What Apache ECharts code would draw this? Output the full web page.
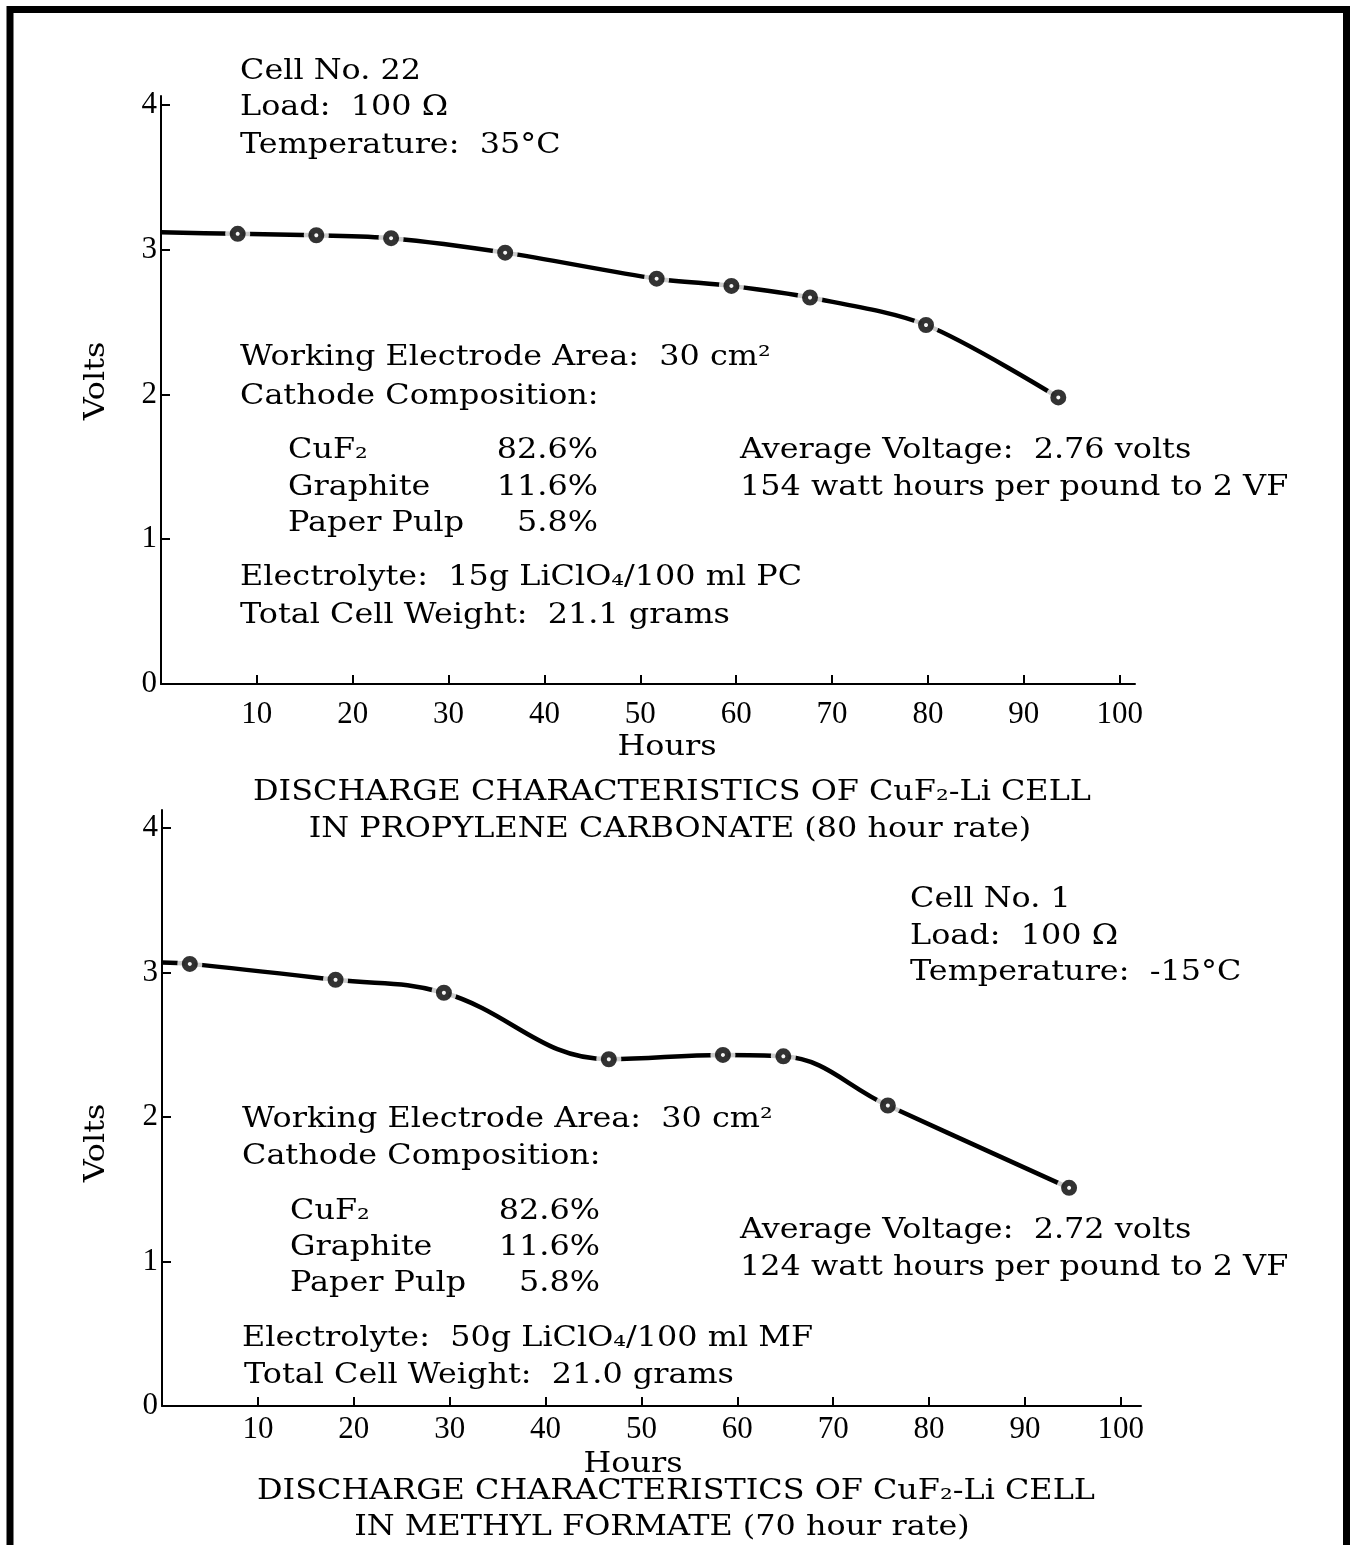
<!DOCTYPE html>
<html>
<head>
<meta charset="utf-8">
<title>Discharge characteristics of CuF2-Li cells</title>
<script src="https://cdn.jsdelivr.net/npm/echarts@6/dist/echarts.min.js"></script>
<style>
  html, body { margin: 0; padding: 0; background: #fff; }
  #chart { width: 1362px; height: 1545px; }
</style>
</head>
<body>
<div id="chart"></div>
<script>
// Cell No. 22 in propylene carbonate, 35 °C.
// The first pair is where the hand-drawn curve leaves the Volts axis; the rest are measured points.
const pcHours = [0, 8.0, 16.2, 24.0, 35.9, 51.7, 59.5, 67.7, 79.8, 93.6];
const pcVolts = [3.12, 3.11, 3.10, 3.08, 2.98, 2.80, 2.75, 2.67, 2.48, 1.98];

// Cell No. 1 in methyl formate, -15 °C (same layout: axis start, then measured points).
const mfHours = [0, 2.9, 18.1, 29.4, 46.6, 58.5, 64.8, 75.7, 94.6];
const mfVolts = [3.07, 3.06, 2.95, 2.86, 2.40, 2.43, 2.42, 2.08, 1.51];

const hourTicks = [10, 20, 30, 40, 50, 60, 70, 80, 90, 100];
const voltTicks = [0, 1, 2, 3, 4];

const INK = '#000';
const TEXT_FONT = 'DejaVu Serif';
const TICK_FONT = 'Liberation Serif';
const TICK_SIZE = 31;
const TEXT_SIZE = 27;
const TEXT_SX = 1.18;

function pairs(xs, ys) { return xs.map((x, i) => [x, ys[i]]); }

const chart = echarts.init(document.getElementById('chart'), null, { renderer: 'canvas' });

function xAxisFor(grid, max, margin) {
  return {
    type: 'value', gridIndex: grid, min: 0, max: max,
    axisLine: { show: true, onZero: false, lineStyle: { color: INK, width: 2 } },
    axisTick: { show: true, inside: true, length: 9, customValues: hourTicks, lineStyle: { color: INK, width: 2 } },
    axisLabel: { customValues: hourTicks, margin: margin, color: INK, fontFamily: TICK_FONT, fontSize: TICK_SIZE },
    splitLine: { show: false }
  };
}
function yAxisFor(grid, max) {
  return {
    type: 'value', gridIndex: grid, min: 0, max: max,
    axisLine: { show: true, onZero: false, lineStyle: { color: INK, width: 2 } },
    axisTick: { show: true, inside: true, length: 9, customValues: voltTicks, lineStyle: { color: INK, width: 2 } },
    axisLabel: { customValues: voltTicks, margin: 4, color: INK, fontFamily: TICK_FONT, fontSize: TICK_SIZE },
    splitLine: { show: false }
  };
}

function curveSeries(idx, hours, volts, smooth) {
  const all = pairs(hours, volts);
  const measured = all.slice(1);
  return [
    { type: 'line', xAxisIndex: idx, yAxisIndex: idx, data: all, showSymbol: false, smooth: smooth,
      lineStyle: { color: INK, width: 4.5 }, z: 2, silent: true },
    // white halo leaves a small gap in the curve around every plotted point
    { type: 'scatter', xAxisIndex: idx, yAxisIndex: idx, data: measured, symbol: 'circle', symbolSize: 25,
      itemStyle: { color: '#fff' }, z: 3, silent: true },
    { type: 'scatter', xAxisIndex: idx, yAxisIndex: idx, data: measured, symbol: 'circle', symbolSize: 10,
      itemStyle: { color: '#fff', borderColor: INK, borderWidth: 6 }, z: 4, silent: true }
  ];
}

// annotation text: [text, x, y, align]
const notesPC = [
  ['Cell No. 22', 240, 72, 'left'],
  ['Load:  100 Ω', 240, 108, 'left'],
  ['Temperature:  35°C', 240, 146, 'left'],
  ['Working Electrode Area:  30 cm²', 240, 358, 'left'],
  ['Cathode Composition:', 240, 397, 'left'],
  ['CuF₂', 288, 451, 'left'],
  ['Graphite', 288, 488, 'left'],
  ['Paper Pulp', 288, 524, 'left'],
  ['82.6%', 598, 451, 'right'],
  ['11.6%', 598, 488, 'right'],
  ['5.8%', 598, 524, 'right'],
  ['Average Voltage:  2.76 volts', 740, 451, 'left'],
  ['154 watt hours per pound to 2 VF', 740, 488, 'left'],
  ['Electrolyte:  15g LiClO₄/100 ml PC', 240, 578, 'left'],
  ['Total Cell Weight:  21.1 grams', 240, 616, 'left'],
  ['Hours', 667, 748, 'center'],
  ['DISCHARGE CHARACTERISTICS OF CuF₂-Li CELL', 672, 793, 'center'],
  ['IN PROPYLENE CARBONATE (80 hour rate)', 670, 830, 'center']
];
const notesMF = [
  ['Cell No. 1', 910, 900, 'left'],
  ['Load:  100 Ω', 910, 937, 'left'],
  ['Temperature:  -15°C', 910, 973, 'left'],
  ['Working Electrode Area:  30 cm²', 242, 1120, 'left'],
  ['Cathode Composition:', 242, 1157, 'left'],
  ['CuF₂', 290, 1212, 'left'],
  ['Graphite', 290, 1248, 'left'],
  ['Paper Pulp', 290, 1284, 'left'],
  ['82.6%', 600, 1212, 'right'],
  ['11.6%', 600, 1248, 'right'],
  ['5.8%', 600, 1284, 'right'],
  ['Average Voltage:  2.72 volts', 740, 1231, 'left'],
  ['124 watt hours per pound to 2 VF', 740, 1268, 'left'],
  ['Electrolyte:  50g LiClO₄/100 ml MF', 242, 1339, 'left'],
  ['Total Cell Weight:  21.0 grams', 244, 1376, 'left'],
  ['Hours', 633, 1465, 'center'],
  ['DISCHARGE CHARACTERISTICS OF CuF₂-Li CELL', 676, 1492, 'center'],
  ['IN METHYL FORMATE (70 hour rate)', 662, 1528, 'center']
];

function textEl(t, x, y, align, rotation) {
  return {
    type: 'text', x: x, y: y, scaleX: TEXT_SX, scaleY: 1,
    rotation: rotation || 0, silent: true, z: 10,
    style: { text: t, x: 0, y: 0, fill: INK, font: TEXT_SIZE + 'px "' + TEXT_FONT + '"',
      textAlign: align, textVerticalAlign: 'middle' }
  };
}

const graphics = [
  { type: 'rect', silent: true, z: 20,
    shape: { x: 10, y: 9.5, width: 1336.5, height: 1600 },
    style: { fill: null, stroke: INK, lineWidth: 7 } },
  textEl('Volts', 97, 381, 'center', Math.PI / 2),
  textEl('Volts', 97, 1143, 'center', Math.PI / 2)
].concat(notesPC.map(n => textEl(n[0], n[1], n[2], n[3])))
 .concat(notesMF.map(n => textEl(n[0], n[1], n[2], n[3])));

chart.setOption({
  backgroundColor: '#fff',
  animation: false,
  grid: [
    { left: 161, top: 96, width: 974, height: 588, outerBoundsMode: 'none' },
    { left: 162, top: 810, width: 979, height: 596, outerBoundsMode: 'none' }
  ],
  xAxis: [xAxisFor(0, 101.6, 15), xAxisFor(1, 102.1, 8)],
  yAxis: [yAxisFor(0, 4.062), yAxisFor(1, 4.125)],
  series: [].concat(curveSeries(0, pcHours, pcVolts, 0.3), curveSeries(1, mfHours, mfVolts, 0.4)),
  graphic: graphics
});
</script>
</body>
</html>
